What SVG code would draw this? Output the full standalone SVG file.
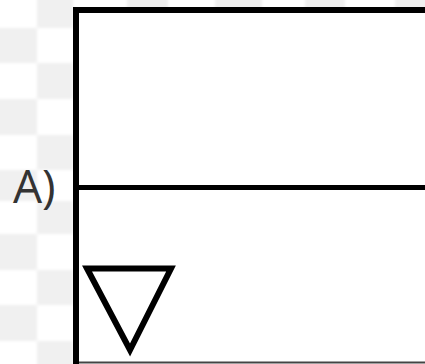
<svg xmlns="http://www.w3.org/2000/svg" width="425" height="364" viewBox="0 0 425 364">
  <style>
    .chk { fill: #f0f0f0; }
    .ln { stroke: #000; fill: none; }
    .lbl { font-family: "Open Sans", "Noto Sans", "DejaVu Sans", sans-serif; font-size: 46px; fill: #333; }
  </style>
  <defs>
    <filter id="soft" x="-5%" y="-5%" width="110%" height="110%">
      <feGaussianBlur stdDeviation="1.5"/>
    </filter>
  </defs>
  <rect x="0" y="0" width="425" height="364" fill="#fff"/>
  <g id="background" filter="url(#soft)">
    <rect class="chk" x="37" y="-5" width="36" height="33"/>
    <rect class="chk" x="127" y="-5" width="41" height="33"/>
    <rect class="chk" x="215" y="-5" width="47" height="33"/>
    <rect class="chk" x="305" y="-5" width="40" height="33"/>
    <rect class="chk" x="395" y="-5" width="35" height="33"/>
    <rect class="chk" x="-5" y="28" width="42" height="35"/>
    <rect class="chk" x="37" y="63" width="36" height="36"/>
    <rect class="chk" x="-5" y="99" width="42" height="36"/>
    <rect class="chk" x="37" y="135" width="36" height="35"/>
    <rect class="chk" x="-5" y="170" width="42" height="31"/>
    <rect class="chk" x="37" y="201" width="36" height="33"/>
    <rect class="chk" x="-5" y="234" width="42" height="36"/>
    <rect class="chk" x="37" y="270" width="36" height="35"/>
    <rect class="chk" x="-5" y="305" width="42" height="36"/>
    <rect class="chk" x="37" y="341" width="36" height="28"/>
  </g>
  <g id="box">
    <rect x="79" y="13" width="346" height="349" fill="#fff"/>
    <line class="ln" x1="73" y1="10" x2="425" y2="10" stroke-width="6"/>
    <line class="ln" x1="76" y1="7" x2="76" y2="364" stroke-width="6"/>
    <line class="ln" x1="79" y1="187.5" x2="425" y2="187.5" stroke-width="5"/>
    <line x1="79" y1="362.5" x2="425" y2="362.5" stroke="#444" stroke-width="2"/>
  </g>
  <g id="triangle">
    <polygon class="ln" points="87,268.5 171,268.5 130,350" stroke-width="6" stroke-linejoin="miter" stroke-miterlimit="10"/>
  </g>
  <g id="label">
    <text class="lbl" x="13" y="203">A)</text>
  </g>
</svg>
